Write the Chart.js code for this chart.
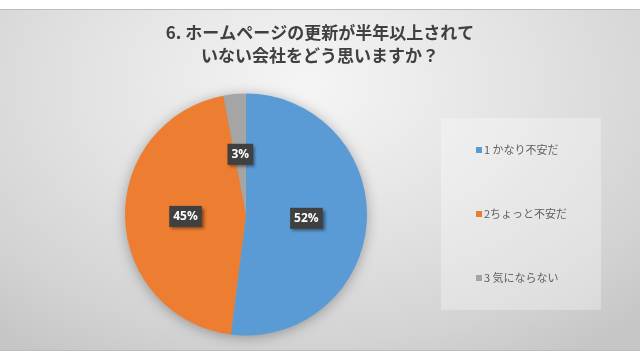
<!DOCTYPE html>
<html>
<head>
<meta charset="utf-8">
<script src="https://cdn.jsdelivr.net/npm/chart.js@4"></script>
<style>
  html, body { margin: 0; padding: 0; background: #fff; }
  #wrap {
    position: absolute; left: 0; top: 9px; width: 640px; height: 342px;
    background: radial-gradient(ellipse 75% 95% at 48% 22%, #f5f5f5 0%, #e3e3e3 45%, #d3d3d3 80%, #c6c6c6 100%);
    border-top: 1px solid #bdbdbd; border-bottom: 1px solid #bdbdbd; box-sizing: border-box;
  }
  canvas { display: block; }
</style>
</head>
<body>
<div id="wrap"><canvas id="grafico" width="640" height="340"></canvas></div>
<script>
const tituloLinhas = ['6. ホームページの更新が半年以上されて', 'いない会社をどう思いますか？'];
const categorias = ['1 かなり不安だ', '2ちょっと不安だ', '3 気にならない'];
const valores = [52, 45, 3];
const cores = ['#5B9BD5', '#ED7D31', '#A5A5A5'];

const fonteJP = '"Noto Sans CJK JP", "Noto Sans", sans-serif';

// title, legend, labels and pie shadow drawn by hand
const decoracao = {
  id: 'decoracao',
  beforeDatasetsDraw(chart) {
    const arc = chart.getDatasetMeta(0).data[0];
    if (!arc) return;
    const ctx = chart.ctx;
    ctx.save();
    ctx.shadowColor = 'rgba(0,0,0,0.35)';
    ctx.shadowBlur = 14;
    ctx.shadowOffsetY = 2;
    ctx.fillStyle = '#999';
    ctx.beginPath();
    ctx.arc(arc.x, arc.y, arc.outerRadius - 1, 0, Math.PI * 2);
    ctx.fill();
    ctx.restore();
  },
  afterDraw(chart) {
    const ctx = chart.ctx;
    ctx.save();

    // title
    ctx.fillStyle = '#404040';
    ctx.font = 'bold 17px ' + fonteJP;
    ctx.textAlign = 'center';
    ctx.textBaseline = 'middle';
    tituloLinhas.forEach((t, i) => ctx.fillText(t, 320, 23 + i * 23));

    // legend
    ctx.fillStyle = 'rgba(255,255,255,0.3)';
    ctx.fillRect(441, 108, 160, 192);
    ctx.font = '11px ' + fonteJP;
    ctx.textAlign = 'left';
    categorias.forEach((c, i) => {
      const y = 140 + i * 64;
      ctx.fillStyle = cores[i];
      ctx.fillRect(476, y - 3, 6, 6);
      ctx.fillStyle = '#5f5f5f';
      ctx.fillText(c, 484, y);
    });

    // data labels
    const meta = chart.getDatasetMeta(0);
    const total = valores.reduce((a, b) => a + b, 0);
    ctx.font = 'bold 12px "Open Sans", sans-serif';
    ctx.textAlign = 'center';
    meta.data.forEach((arc, i) => {
      const p = arc.tooltipPosition();
      const txt = Math.round(valores[i] / total * 100) + '%';
      const w = ctx.measureText(txt).width + 8;
      const h = 21;
      ctx.save();
      ctx.shadowColor = 'rgba(0,0,0,0.45)';
      ctx.shadowBlur = 3;
      ctx.shadowOffsetX = 2;
      ctx.shadowOffsetY = 2;
      ctx.fillStyle = '#404040';
      ctx.fillRect(p.x - w / 2, p.y - h / 2, w, h);
      ctx.restore();
      ctx.fillStyle = '#fff';
      ctx.fillText(txt, p.x, p.y + 0.5);
    });
    ctx.restore();
  }
};

new Chart(document.getElementById('grafico'), {
  type: 'pie',
  data: {
    labels: categorias,
    datasets: [{
      data: valores,
      backgroundColor: cores,
      borderWidth: 0
    }]
  },
  options: {
    responsive: false,
    animation: false,
    layout: { padding: { top: 83.5, left: 125, right: 273, bottom: 14.5 } },
    plugins: {
      legend: { display: false },
      title: { display: false },
      tooltip: { enabled: false }
    }
  },
  plugins: [decoracao]
});
</script>
</body>
</html>
